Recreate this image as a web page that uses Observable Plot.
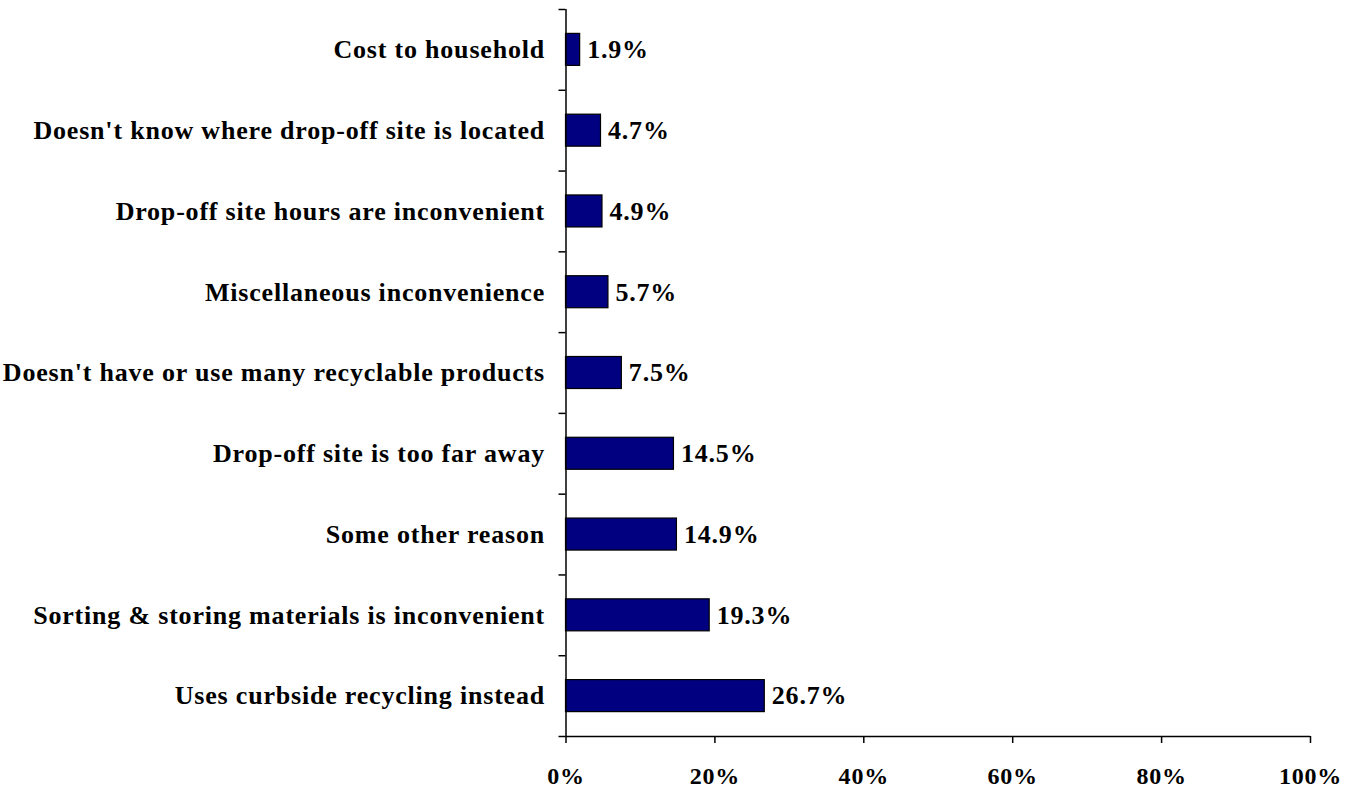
<!DOCTYPE html>
<html><head><meta charset="utf-8">
<script src="https://cdn.jsdelivr.net/npm/d3@7"></script>
<script src="https://cdn.jsdelivr.net/npm/@observablehq/plot@0.6"></script>
<style>
body{margin:0;background:#fff;}
svg text{font-family:"Liberation Serif","Times New Roman",serif;font-weight:bold;}
</style>
</head><body><div id="chart"></div>
<script>
const categories = [
  "Cost to household",
  "Doesn't know where drop-off site is located",
  "Drop-off site hours are inconvenient",
  "Miscellaneous inconvenience",
  "Doesn't have or use many recyclable products",
  "Drop-off site is too far away",
  "Some other reason",
  "Sorting & storing materials is inconvenient",
  "Uses curbside recycling instead"
];
const values = [1.9, 4.7, 4.9, 5.7, 7.5, 14.5, 14.9, 19.3, 26.7];
const xTicks = [0, 20, 40, 60, 80, 100];

const data = categories.map((c, i) => ({category: c, value: values[i], i}));
const n = categories.length;
const W = 1362, H = 790;
const mT = 9, mB = 54, mL = 565.5, mR = 52;
const step = (H - mT - mB) / n;
const barH = 32;
const inset = (step - barH) / 2;

const chart = Plot.plot({
  width: W, height: H,
  marginTop: mT, marginBottom: mB, marginLeft: mL, marginRight: mR,
  style: {fontSize: "26px", color: "#000", background: "#fff", overflow: "visible"},
  x: {domain: [0, 100], label: null},
  y: {domain: [0, n], reverse: true, label: null},
  marks: [
    Plot.rect(data, {x1: 0, x2: "value", y1: "i", y2: d => d.i + 1,
      insetTop: inset, insetBottom: inset, fill: "#000080", stroke: "#000", strokeWidth: 1.2}),
    Plot.text(data, {x: "value", y: d => d.i + 0.5, text: d => d.value.toFixed(1) + "%",
      textAnchor: "start", dx: 7, fontSize: 26, fontWeight: "bold", fill: "#000"}),
    Plot.axisY(d3.range(n).map(i => i + 0.5), {tickSize: 0, tickPadding: 21, label: null,
      tickFormat: d => categories[Math.floor(d)], fontSize: 26}),
    Plot.axisY(d3.range(n + 1), {tickSize: 7, tickFormat: () => "", label: null, strokeWidth: 1.5}),
    Plot.axisX(xTicks, {tickSize: 7, tickPadding: 23, label: null, tickFormat: d => d + "%", fontSize: 24, strokeWidth: 1.5}),
    Plot.ruleX([0], {y1: 0, y2: n, strokeWidth: 1.5}),
    Plot.ruleY([n], {x1: 0, x2: 100, strokeWidth: 1.5})
  ]
});
chart.querySelectorAll("text").forEach(t => t.style.letterSpacing = "0.8px");
document.getElementById("chart").appendChild(chart);
</script>
</body></html>
